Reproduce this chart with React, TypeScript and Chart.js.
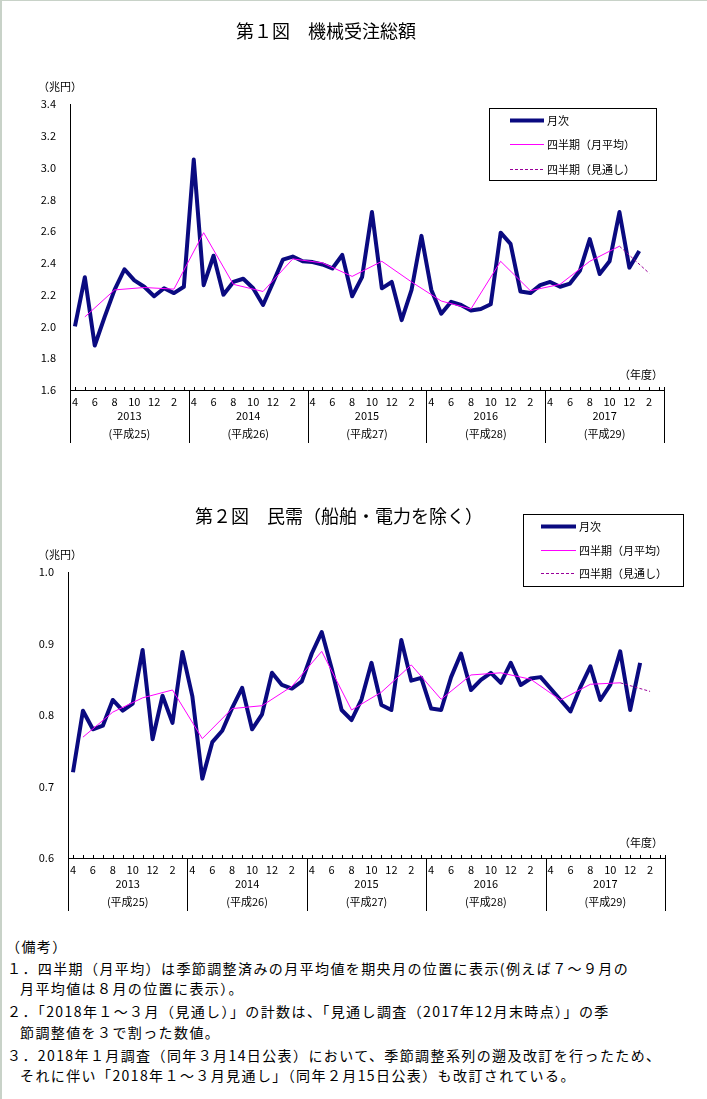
import React, { useEffect, useRef } from 'react';
import { Chart, registerables } from 'chart.js';
Chart.register(...registerables);

// ---- data ----
const MONTHS = [4, 5, 6, 7, 8, 9, 10, 11, 12, 1, 2, 3];
const FISCAL_YEARS = ['2013', '2014', '2015', '2016', '2017'];
const HEISEI = ['(平成25)', '(平成26)', '(平成27)', '(平成28)', '(平成29)'];

// 第1図 機械受注総額 (兆円), monthly Apr 2013 - Mar 2018
const total2013 = [2.0, 2.31, 1.88, 2.06, 2.23, 2.36, 2.29, 2.25, 2.19, 2.24, 2.21, 2.25];
const total2014 = [3.05, 2.26, 2.445, 2.2, 2.28, 2.3, 2.24, 2.135, 2.275, 2.42, 2.44, 2.41];
const total2015 = [2.405, 2.39, 2.365, 2.45, 2.19, 2.31, 2.72, 2.24, 2.28, 2.04, 2.23, 2.57];
const total2016 = [2.23, 2.08, 2.155, 2.135, 2.1, 2.11, 2.14, 2.59, 2.52, 2.22, 2.21, 2.26];
const total2017 = [2.28, 2.25, 2.27, 2.35, 2.55, 2.33, 2.41, 2.72, 2.37, 2.475, null, null];
const totalQuarterly = [2.06, 2.23, 2.245, 2.235, 2.59, 2.265, 2.22, 2.425, 2.4, 2.315, 2.41, 2.28, 2.16, 2.11, 2.41, 2.225, 2.265, 2.41, 2.505];
const totalForecast = 2.335;
const totalTicks = { min: 1.6, max: 3.4, step: 0.2 };

// 第2図 民需（船舶・電力を除く）(兆円)
const private2013 = [0.72, 0.806, 0.78, 0.785, 0.821, 0.806, 0.816, 0.891, 0.766, 0.827, 0.789, 0.888];
const private2014 = [0.826, 0.711, 0.762, 0.778, 0.81, 0.838, 0.78, 0.801, 0.859, 0.842, 0.837, 0.847];
const private2015 = [0.886, 0.916, 0.865, 0.807, 0.793, 0.822, 0.873, 0.814, 0.807, 0.905, 0.848, 0.852];
const private2016 = [0.809, 0.807, 0.853, 0.886, 0.835, 0.849, 0.859, 0.845, 0.873, 0.842, 0.851, 0.853];
const private2017 = [0.837, 0.821, 0.805, 0.839, 0.868, 0.821, 0.842, 0.889, 0.807, 0.873, null, null];
const privateQuarterly = [0.769, 0.804, 0.824, 0.835, 0.767, 0.809, 0.813, 0.84, 0.889, 0.807, 0.832, 0.87, 0.822, 0.856, 0.859, 0.85, 0.821, 0.843, 0.845];
const privateForecast = 0.833;
const privateTicks = { min: 0.6, max: 1.0, step: 0.1 };

const LEGEND_LABELS = ['月次', '四半期（月平均）', '四半期（見通し）'];

// ---- helpers ----
const FONT = '"Noto Sans CJK JP", "Noto Sans", sans-serif';
const NAVY = '#0a0a80';
const MAGENTA = '#ff00ff';
const PURPLE = '#990099';
const labels = FISCAL_YEARS.flatMap((y) => MONTHS.map((m) => `${y}-${m}`));
const quarterTable = (q: number[]) => {
  const arr: (number | null)[] = Array(labels.length).fill(null);
  q.forEach((v, i) => (arr[1 + 3 * i] = v));
  return arr;
};
const forecastTable = (q: number[], f: number) => {
  const arr: (number | null)[] = Array(labels.length).fill(null);
  arr[1 + 3 * (q.length - 1)] = q[q.length - 1];
  arr[1 + 3 * q.length] = f;
  return arr;
};

type Geo = {
  title: string; titleX: number; titleY: number;
  left: number; right: number; top: number; bottom: number; height: number;
  legend: { x: number; y: number; w: number; h: number; lx0: number; lx1: number; tx: number; ys: number[] };
};

function makeChart(canvas: HTMLCanvasElement, monthly: (number | null)[], quarterly: number[], forecast: number, ticks: any, g: Geo) {
  const decor = {
    id: 'decor',
    afterDraw(chart: any) {
      const { ctx, chartArea: a } = chart;
      const x = chart.scales.x;
      const line = (x0: number, y0: number, x1: number, y1: number) => {
        ctx.beginPath(); ctx.moveTo(x0, y0); ctx.lineTo(x1, y1); ctx.stroke();
      };
      ctx.save();
      ctx.strokeStyle = '#000';
      ctx.lineWidth = 1;
      // inward ticks at each month
      for (let i = 0; i < labels.length; i++) {
        const px = Math.round(x.getPixelForValue(i)) + 0.5;
        line(px, a.bottom - 3, px, a.bottom);
      }
      // year separators
      for (let k = 0; k <= FISCAL_YEARS.length; k++) {
        let px: number;
        if (k === 0) px = a.left;
        else if (k === FISCAL_YEARS.length) px = a.right;
        else px = (x.getPixelForValue(12 * k - 1) + x.getPixelForValue(12 * k)) / 2;
        px = Math.round(px) + 0.5;
        line(px, a.bottom - (k === FISCAL_YEARS.length ? 3 : 0), px, a.bottom + 53);
      }
      // year labels
      ctx.fillStyle = '#000';
      ctx.textAlign = 'center';
      ctx.textBaseline = 'middle';
      ctx.font = `11px ${FONT}`;
      FISCAL_YEARS.forEach((yr, k) => {
        const cx = (x.getPixelForValue(12 * k) + x.getPixelForValue(12 * k + 11)) / 2;
        ctx.fillText(yr, cx, a.bottom + 26);
        ctx.fillText(HEISEI[k], cx, a.bottom + 44);
      });
      // unit labels
      ctx.textAlign = 'right';
      ctx.fillText('（年度）', 663, a.bottom - 15);
      ctx.textAlign = 'left';
      ctx.fillText('（兆円）', 38, a.top - 17);
      // title
      ctx.textAlign = 'center';
      ctx.font = `18px ${FONT}`;
      ctx.fillText(g.title, g.titleX, g.titleY);
      // legend
      const L = g.legend;
      ctx.lineWidth = 1;
      ctx.strokeRect(L.x + 0.5, L.y + 0.5, L.w, L.h);
      ctx.font = `11px ${FONT}`;
      ctx.textAlign = 'left';
      const styles = [
        { c: NAVY, w: 4, d: [] as number[] },
        { c: MAGENTA, w: 1, d: [] as number[] },
        { c: PURPLE, w: 1, d: [3, 2] },
      ];
      styles.forEach((s, i) => {
        ctx.strokeStyle = s.c; ctx.lineWidth = s.w; ctx.setLineDash(s.d);
        line(L.lx0, L.ys[i] + 0.5, L.lx1, L.ys[i] + 0.5);
        ctx.setLineDash([]);
        ctx.fillText(LEGEND_LABELS[i], L.tx, L.ys[i] + 0.5);
      });
      ctx.restore();
    },
  };

  return new Chart(canvas, {
    type: 'line',
    data: {
      labels,
      datasets: [
        {
          label: LEGEND_LABELS[0], data: monthly, borderColor: NAVY, borderWidth: 4,
          borderJoinStyle: 'round', pointRadius: 0, tension: 0, order: 3, spanGaps: false,
        },
        {
          label: LEGEND_LABELS[1], data: quarterTable(quarterly), borderColor: MAGENTA, borderWidth: 1,
          pointRadius: 0, tension: 0, order: 1, spanGaps: true,
        },
        {
          label: LEGEND_LABELS[2], data: forecastTable(quarterly, forecast), borderColor: PURPLE, borderWidth: 1,
          borderDash: [3, 2], pointRadius: 0, tension: 0, order: 2, spanGaps: true,
        },
      ],
    },
    options: {
      responsive: false,
      animation: false,
      events: [],
      layout: { padding: { left: 0, top: g.top, right: 707 - g.right, bottom: 0 } },
      plugins: { legend: { display: false }, tooltip: { enabled: false }, title: { display: false } },
      scales: {
        x: {
          type: 'category',
          offset: true,
          grid: { display: false, drawTicks: false },
          border: { display: true, color: '#000', width: 1 },
          ticks: {
            autoSkip: false, maxRotation: 0, minRotation: 0, padding: 5, color: '#000',
            font: { family: FONT, size: 11 },
            callback: (_v: any, i: number) => (MONTHS[i % 12] % 2 === 0 ? String(MONTHS[i % 12]) : ''),
          },
          afterFit: (s: any) => { s.height = g.height - g.bottom; },
        },
        y: {
          min: ticks.min, max: ticks.max,
          grid: { display: false, drawTicks: false },
          border: { display: true, color: '#000', width: 1 },
          ticks: {
            stepSize: ticks.step, padding: 14, color: '#000',
            font: { family: FONT, size: 11 },
            callback: (v: any) => Number(v).toFixed(1),
          },
          afterFit: (s: any) => { s.width = g.left; },
        },
      },
    },
    plugins: [decor],
  });
}

const join = (...a: (number | null)[][]) => a.flat();

export default function App() {
  const c1 = useRef<HTMLCanvasElement>(null);
  const c2 = useRef<HTMLCanvasElement>(null);
  useEffect(() => {
    const ch1 = makeChart(c1.current!, join(total2013, total2014, total2015, total2016, total2017), totalQuarterly, totalForecast, totalTicks, {
      title: '第１図　機械受注総額', titleX: 326, titleY: 31,
      left: 70, right: 664, top: 104, bottom: 390, height: 460,
      legend: { x: 489, y: 108, w: 167, h: 72, lx0: 510, lx1: 544, tx: 547, ys: [120, 144, 169] },
    });
    const ch2 = makeChart(c2.current!, join(private2013, private2014, private2015, private2016, private2017), privateQuarterly, privateForecast, privateTicks, {
      title: '第２図　民需（船舶・電力を除く）', titleX: 339, titleY: 56,
      left: 68, right: 665, top: 112, bottom: 398, height: 460,
      legend: { x: 523, y: 54, w: 160, h: 72, lx0: 541, lx1: 576, tx: 579, ys: [66, 90, 113] },
    });
    return () => { ch1.destroy(); ch2.destroy(); };
  }, []);

  const noteStyle = (left: number, center: number): React.CSSProperties => ({
    position: 'absolute', left, top: center - 9, fontSize: 14, lineHeight: '18px',
    letterSpacing: '1.4px', whiteSpace: 'nowrap', fontFamily: FONT, color: '#000',
  });

  return (
    <div style={{ position: 'absolute', left: 0, top: 0, width: 707, height: 1099, background: '#fff', overflow: 'hidden' }}>
      <div style={{ position: 'absolute', left: 0, top: 0, width: 707, height: 1, background: '#c8d2c8' }} />
      <div style={{ position: 'absolute', left: 0, top: 0, width: 2, height: 1099, background: '#c8d2c8' }} />
      <canvas ref={c1} width={707} height={460} style={{ position: 'absolute', left: 0, top: 0, width: 707, height: 460 }} />
      <canvas ref={c2} width={707} height={460} style={{ position: 'absolute', left: 0, top: 460, width: 707, height: 460 }} />
      <div style={noteStyle(6, 946)}>（備考）</div>
      <div style={noteStyle(7, 968)}>１．四半期（月平均）は季節調整済みの月平均値を期央月の位置に表示(例えば７～９月の</div>
      <div style={noteStyle(20, 988)}>月平均値は８月の位置に表示）。</div>
      <div style={noteStyle(7, 1011)}>２．「2018年１～３月（見通し）」の計数は、「見通し調査（2017年12月末時点）」の季</div>
      <div style={noteStyle(20, 1032)}>節調整値を３で割った数値。</div>
      <div style={noteStyle(7, 1055)}>３．2018年１月調査（同年３月14日公表）において、季節調整系列の遡及改訂を行ったため、</div>
      <div style={noteStyle(20, 1075)}>それに伴い「2018年１～３月見通し」（同年２月15日公表）も改訂されている。</div>
    </div>
  );
}
